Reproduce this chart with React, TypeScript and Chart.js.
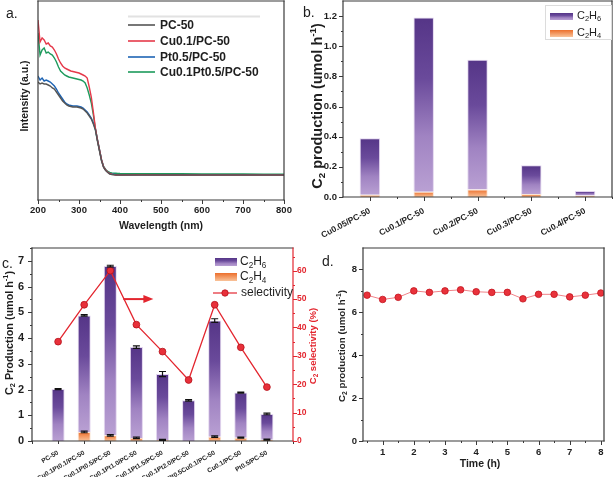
import React, { useEffect, useRef } from 'react';
import { Chart, registerables } from 'chart.js';

Chart.register(...registerables);

const FONT = "'Liberation Sans', Arial, Helvetica, sans-serif";
const INK = '#1e1e1e';
const AXIS = '#3a3a3a';
const RED = '#e3262f';

// ---------- Panel a: UV-vis spectra ----------
const uvWavelength = [200, 205, 210, 215, 220, 225, 230, 235, 240, 245, 250, 255, 260, 265, 270, 275, 280, 285, 290, 295, 300, 305, 310, 315, 320, 325, 330, 335, 340, 345, 350, 355, 360, 365, 370, 375, 380, 385, 390, 395, 400, 450, 500, 550, 600, 650, 700, 750, 800];
const uvPC50 = [118, 116, 117, 116, 116, 115, 114, 112, 111, 108, 105, 102, 99, 97, 95, 94, 93.5, 93, 93, 93, 92.5, 92, 91, 89, 87, 84, 81, 76, 70, 59, 49, 39, 32.5, 29.5, 27.5, 26, 25.5, 25.2, 25, 25, 25, 25, 25, 25, 25, 25, 25, 25, 25];
const uvCu01 = [180, 158, 162, 160, 156, 157, 154, 153, 150, 146, 141, 137, 134, 132, 131, 130, 129, 128.5, 128, 127.5, 127, 126, 125, 124, 122, 113, 103, 88, 72, 60, 50, 40, 33, 30, 28, 26.5, 25.8, 25.4, 25, 25, 25, 25.2, 25, 25, 25, 25, 25, 25, 25];
const uvPt05 = [124, 120, 122, 119, 120, 119, 118, 116, 114, 111, 107, 104, 101, 98, 96, 95, 94.5, 94, 94, 94, 93.5, 93, 92, 90, 88, 85, 82, 77, 71, 60, 50, 40, 33, 30, 28, 26.5, 26, 25.7, 25.5, 25.4, 25.3, 25.3, 25.3, 25.2, 25.2, 25.2, 25.2, 25.2, 25.2];
const uvCu01Pt05 = [167, 145, 150, 152, 147, 148, 146, 145, 142, 138, 133, 129, 127, 125, 124, 123, 122.5, 122, 121.5, 121, 120.5, 120, 119, 117, 112, 105, 97, 85, 71, 60, 50, 40, 33.5, 30.5, 28.5, 27.5, 27, 26.8, 26.7, 26.6, 26.5, 26.4, 26.3, 26.2, 26.1, 26, 26, 25.9, 25.8];
const uvSeriesNames = ['PC-50', 'Cu0.1/PC-50', 'Pt0.5/PC-50', 'Cu0.1Pt0.5/PC-50'];
const uvSeriesColors = ['#555555', '#e5394a', '#1e64b4', '#1d9a5c'];
const uvTicks = [200, 300, 400, 500, 600, 700, 800];
const uvMinor = [250, 350, 450, 550, 650, 750];

// ---------- Panel b: Cu loading ----------
const bLabels = ['Cu0.05/PC-50', 'Cu0.1/PC-50', 'Cu0.2/PC-50', 'Cu0.3/PC-50', 'Cu0.4/PC-50'];
const bC2H4 = [0.015, 0.035, 0.05, 0.02, 0.01];
const bC2H6 = [0.375, 1.155, 0.86, 0.19, 0.03];
const bYTicks = [0, 0.2, 0.4, 0.6, 0.8, 1.0, 1.2];
const bYMinor = [0.1, 0.3, 0.5, 0.7, 0.9, 1.1];

// ---------- Panel c: catalysts + selectivity ----------
const cLabels = ['PC-50', 'Cu0.1Pt0.1/PC-50', 'Cu0.1Pt0.5/PC-50', 'Cu0.1Pt1.0/PC-50', 'Cu0.1Pt1.5/PC-50', 'Cu0.1Pt2.0/PC-50', 'Pt0.5Cu0.1/PC-50', 'Cu0.1/PC-50', 'Pt0.5/PC-50'];
const cC2H4 = [0, 0.35, 0.22, 0.12, 0.04, 0, 0.17, 0.13, 0.05];
const cC2H6 = [2.02, 4.53, 6.58, 3.53, 2.56, 1.58, 4.51, 1.75, 1.0];
const cTotalErr = [0.02, 0.03, 0.03, 0.05, 0.1, 0.03, 0.07, 0.02, 0.03];
const cC2H4Err = [0, 0.03, 0.03, 0.03, 0.02, 0, 0.03, 0.02, 0.02];
const cSelectivity = [35, 48, 60, 41, 31.5, 21.5, 48, 33, 19];
const cYTicks = [0, 1, 2, 3, 4, 5, 6, 7];
const cYMinor = [0.5, 1.5, 2.5, 3.5, 4.5, 5.5, 6.5, 7.5];
const cY1Ticks = [0, 10, 20, 30, 40, 50, 60];
const cY1Minor = [5, 15, 25, 35, 45, 55, 65];
const cArrow = { from: 3.5, to: 4.65, at: 50 };

// ---------- Panel d: stability ----------
const dTime = [0.5, 1, 1.5, 2, 2.5, 3, 3.5, 4, 4.5, 5, 5.5, 6, 6.5, 7, 7.5, 8];
const dProduction = [6.8, 6.6, 6.7, 7.0, 6.93, 7.0, 7.05, 6.96, 6.93, 6.93, 6.63, 6.84, 6.84, 6.72, 6.8, 6.9];
const dXTicks = [1, 2, 3, 4, 5, 6, 7, 8];
const dXMinor = [0.5, 1.5, 2.5, 3.5, 4.5, 5.5, 6.5, 7.5];
const dYTicks = [0, 2, 4, 6, 8];
const dYMinor = [1, 3, 5, 7];

// ---------- helpers ----------
type Seg = { t: string; k?: 'sub' | 'sup' };

function drawRich(ctx: CanvasRenderingContext2D, segs: Seg[], x: number, y: number, size: number, weight: string, color: string, rot = 0, align: 'center' | 'left' = 'center') {
  ctx.save();
  ctx.translate(x, y);
  ctx.rotate(rot);
  const fontFor = (k?: string) => `${weight} ${k ? size * 0.68 : size}px ${FONT}`;
  let total = 0;
  for (const s of segs) {
    ctx.font = fontFor(s.k);
    total += ctx.measureText(s.t).width;
  }
  let cx = align === 'center' ? -total / 2 : 0;
  ctx.textBaseline = 'middle';
  ctx.textAlign = 'left';
  ctx.fillStyle = color;
  for (const s of segs) {
    ctx.font = fontFor(s.k);
    const dy = s.k === 'sub' ? size * 0.3 : s.k === 'sup' ? -size * 0.33 : 0;
    ctx.fillText(s.t, cx, dy);
    cx += ctx.measureText(s.t).width;
  }
  ctx.restore();
}

function drawFrame(chart: any, colors: { top: string; right: string; bottom: string; left: string }, lw = 1.2) {
  const { ctx, chartArea: a } = chart;
  ctx.save();
  ctx.lineWidth = lw;
  ctx.lineCap = 'square';
  const seg = (x1: number, y1: number, x2: number, y2: number, c: string) => {
    ctx.strokeStyle = c;
    ctx.beginPath();
    ctx.moveTo(x1, y1);
    ctx.lineTo(x2, y2);
    ctx.stroke();
  };
  seg(a.left, a.top, a.right, a.top, colors.top);
  seg(a.left, a.bottom, a.right, a.bottom, colors.bottom);
  seg(a.left, a.top, a.left, a.bottom, colors.left);
  seg(a.right, a.top, a.right, a.bottom, colors.right);
  ctx.restore();
}

function drawTicks(chart: any, scaleId: string, side: 'bottom' | 'left' | 'right', values: number[], len: number, color = AXIS, lw = 1) {
  const s = chart.scales[scaleId];
  const a = chart.chartArea;
  const ctx = chart.ctx as CanvasRenderingContext2D;
  ctx.save();
  ctx.strokeStyle = color;
  ctx.lineWidth = lw;
  ctx.beginPath();
  for (const v of values) {
    const p = Math.round(s.getPixelForValue(v)) + 0.5;
    if (side === 'bottom') {
      ctx.moveTo(p, a.bottom);
      ctx.lineTo(p, a.bottom + len);
    } else if (side === 'left') {
      ctx.moveTo(a.left, p);
      ctx.lineTo(a.left - len, p);
    } else {
      ctx.moveTo(a.right, p);
      ctx.lineTo(a.right + len, p);
    }
  }
  ctx.stroke();
  ctx.restore();
}

function purpleGradient(ctx: CanvasRenderingContext2D, y0: number, y1: number) {
  const g = ctx.createLinearGradient(0, y0, 0, Math.max(y1, y0 + 1));
  g.addColorStop(0, '#553587');
  g.addColorStop(0.35, '#6a4a9b');
  g.addColorStop(0.68, '#a083c2');
  g.addColorStop(1, '#b9a0d3');
  return g;
}

function orangeGradient(ctx: CanvasRenderingContext2D, y0: number, y1: number) {
  const g = ctx.createLinearGradient(0, y0, 0, Math.max(y1, y0 + 1));
  g.addColorStop(0, '#ec6f2c');
  g.addColorStop(1, '#f9c39a');
  return g;
}

function barFill(kind: 'purple' | 'orange', lows: number[], highs: number[], idxShift: number) {
  return (c: any) => {
    const chart = c.chart;
    const y = chart.scales && chart.scales.y;
    if (c.type !== 'data' || !y || !chart.chartArea) return kind === 'purple' ? '#7d5fae' : '#f29a62';
    const i = c.dataIndex - idxShift;
    if (i < 0 || i >= lows.length) return '#7d5fae';
    const p0 = y.getPixelForValue(highs[i]);
    const p1 = y.getPixelForValue(lows[i]);
    return kind === 'purple' ? purpleGradient(chart.ctx, p0, p1) : orangeGradient(chart.ctx, p0, p1);
  };
}

const axisFont = (size: number, weight = 'bold') => ({ family: FONT, size, weight: weight as any });
const setTicks = (vals: number[]) => (s: any) => {
  s.ticks = vals.map((v) => ({ value: v }));
};
const fitHeight = (h: number) => (s: any) => {
  s.height = h;
  s.paddingLeft = 0; s.paddingRight = 0; s.paddingTop = 0; s.paddingBottom = 0;
};
const fitWidth = (w: number) => (s: any) => {
  s.width = w;
  s.paddingLeft = 0; s.paddingRight = 0; s.paddingTop = 0; s.paddingBottom = 0;
};
const noGrid = { display: false, drawTicks: false, tickLength: 0 };
const noBorder = { display: false };

// ---------- builders ----------
function buildA(canvas: HTMLCanvasElement) {
  const seriesData = [uvPC50, uvCu01, uvPt05, uvCu01Pt05];
  return new Chart(canvas, {
    type: 'line',
    data: {
      datasets: seriesData.map((d, k) => ({
        label: uvSeriesNames[k],
        data: uvWavelength.map((w, i) => ({ x: w, y: d[i] })),
        borderColor: uvSeriesColors[k],
        borderWidth: 1.4,
        pointRadius: 0,
        tension: 0,
        fill: false,
      })),
    },
    options: {
      responsive: false,
      animation: false,
      events: [],
      layout: { padding: { top: 1, right: 16, left: 38, bottom: 0 } },
      plugins: { legend: { display: false }, tooltip: { enabled: false } },
      scales: {
        x: {
          type: 'linear', min: 200, max: 800,
          grid: noGrid, border: noBorder,
          afterBuildTicks: setTicks(uvTicks),
          ticks: { font: axisFont(9.5), color: INK, padding: 5, maxRotation: 0, autoSkip: false },
          afterFit: fitHeight(40),
        },
        y: { display: false, min: 0, max: 199 },
      },
    },
    plugins: [{
      id: 'decorA',
      afterDraw(chart: any) {
        const ctx = chart.ctx as CanvasRenderingContext2D;
        drawFrame(chart, { top: AXIS, right: AXIS, bottom: AXIS, left: AXIS });
        drawTicks(chart, 'x', 'bottom', uvTicks, 4);
        drawTicks(chart, 'x', 'bottom', uvMinor, 2);
        ctx.save();
        ctx.strokeStyle = '#e2e2e2';
        ctx.lineWidth = 2;
        ctx.beginPath(); ctx.moveTo(128, 16.5); ctx.lineTo(260, 16.5); ctx.stroke();
        const ly = [25, 41, 57, 72];
        uvSeriesNames.forEach((name, k) => {
          ctx.strokeStyle = uvSeriesColors[k];
          ctx.lineWidth = 1.6;
          ctx.beginPath(); ctx.moveTo(128, ly[k]); ctx.lineTo(155, ly[k]); ctx.stroke();
          drawRich(ctx, [{ t: name }], 160, ly[k] + 0.5, 12, 'bold', INK, 0, 'left');
        });
        ctx.restore();
        drawRich(ctx, [{ t: 'Wavelength (nm)' }], 161, 226, 10.5, 'bold', INK);
        drawRich(ctx, [{ t: 'Intensity (a.u.)' }], 25, 96, 10.5, 'bold', INK, -Math.PI / 2);
        drawRich(ctx, [{ t: 'a.' }], 6, 14, 14, 'normal', INK, 0, 'left');
      },
    }],
  } as any);
}

function buildB(canvas: HTMLCanvasElement) {
  const totals = bC2H6.map((v, i) => v + bC2H4[i]);
  const zeros = bC2H4.map(() => 0);
  return new Chart(canvas, {
    type: 'bar',
    data: {
      labels: bLabels,
      datasets: [
        {
          label: 'C2H4', data: bC2H4, stack: 's',
          backgroundColor: barFill('orange', zeros, bC2H4, 0),
          borderColor: 'rgba(250,225,205,0.9)', borderWidth: 1,
          categoryPercentage: 1, barPercentage: 0.38,
        },
        {
          label: 'C2H6', data: bC2H6, stack: 's',
          backgroundColor: barFill('purple', bC2H4, totals, 0),
          borderColor: 'rgba(225,212,238,0.95)', borderWidth: 1,
          categoryPercentage: 1, barPercentage: 0.38,
        },
      ],
    },
    options: {
      responsive: false,
      animation: false,
      events: [],
      layout: { padding: { top: 1, right: 2, left: 0, bottom: 0 } },
      plugins: { legend: { display: false }, tooltip: { enabled: false } },
      scales: {
        x: {
          stacked: true, grid: noGrid, border: noBorder, offset: true,
          ticks: { font: axisFont(8.5), color: INK, padding: 9, minRotation: 28, maxRotation: 28, autoSkip: false },
          afterFit: fitHeight(43),
        },
        y: {
          stacked: true, min: 0, max: 1.3, grid: noGrid, border: noBorder,
          afterBuildTicks: setTicks(bYTicks),
          ticks: { font: axisFont(9.5), color: INK, padding: 6, callback: (v: any) => Number(v).toFixed(1) },
          afterFit: fitWidth(43),
        },
      },
    },
    plugins: [{
      id: 'decorB',
      afterDraw(chart: any) {
        const ctx = chart.ctx as CanvasRenderingContext2D;
        drawFrame(chart, { top: AXIS, right: AXIS, bottom: AXIS, left: AXIS });
        drawTicks(chart, 'x', 'bottom', bLabels.map((_, i) => i), 4);
        drawTicks(chart, 'x', 'bottom', bLabels.map((_, i) => i + 0.5), 2);
        drawTicks(chart, 'y', 'left', bYTicks, 4);
        drawTicks(chart, 'y', 'left', bYMinor, 2);
        ctx.save();
        ctx.strokeStyle = '#dcdcdc';
        ctx.lineWidth = 1;
        ctx.strokeRect(245.5, 5.5, 66, 34);
        ctx.fillStyle = purpleGradient(ctx, 13, 20);
        ctx.fillRect(250, 13, 23, 7);
        ctx.fillStyle = orangeGradient(ctx, 30, 37);
        ctx.fillRect(250, 30, 23, 7);
        ctx.restore();
        drawRich(ctx, [{ t: 'C' }, { t: '2', k: 'sub' }, { t: 'H' }, { t: '6', k: 'sub' }], 277, 16, 11, 'normal', INK, 0, 'left');
        drawRich(ctx, [{ t: 'C' }, { t: '2', k: 'sub' }, { t: 'H' }, { t: '4', k: 'sub' }], 277, 33, 11, 'normal', INK, 0, 'left');
        drawRich(ctx, [{ t: 'C' }, { t: '2', k: 'sub' }, { t: ' production (umol h' }, { t: '-1', k: 'sup' }, { t: ')' }], 18, 106, 14.5, 'bold', INK, -Math.PI / 2);
        drawRich(ctx, [{ t: 'b.' }], 3, 13, 14, 'normal', INK, 0, 'left');
      },
    }],
  } as any);
}

function buildC(canvas: HTMLCanvasElement) {
  const pad = (arr: (number | null)[]) => [null, ...arr, null];
  const labels = ['', ...cLabels, ''];
  const totals = cC2H6.map((v, i) => v + cC2H4[i]);
  const zeros = cC2H4.map(() => 0);
  return new Chart(canvas, {
    type: 'bar',
    data: {
      labels,
      datasets: [
        {
          type: 'line', label: 'selectivity', data: pad(cSelectivity), yAxisID: 'y1',
          borderColor: RED, borderWidth: 1.3, pointRadius: 3.4,
          pointBackgroundColor: '#e8303a', pointBorderColor: '#b5121b', pointBorderWidth: 0.8,
          tension: 0, fill: false, order: 0,
        },
        {
          label: 'C2H4', data: pad(cC2H4), stack: 's', yAxisID: 'y',
          backgroundColor: barFill('orange', zeros, cC2H4, 1),
          borderColor: 'rgba(250,225,205,0.9)', borderWidth: 1,
          categoryPercentage: 1, barPercentage: 0.5, order: 1,
        },
        {
          label: 'C2H6', data: pad(cC2H6), stack: 's', yAxisID: 'y',
          backgroundColor: barFill('purple', cC2H4, totals, 1),
          borderColor: 'rgba(225,212,238,0.95)', borderWidth: 1,
          categoryPercentage: 1, barPercentage: 0.5, order: 1,
        },
      ],
    },
    options: {
      responsive: false,
      animation: false,
      events: [],
      layout: { padding: { top: 8, right: 0, left: 0, bottom: 0 } },
      plugins: { legend: { display: false }, tooltip: { enabled: false } },
      scales: {
        x: {
          stacked: true, offset: false, grid: noGrid, border: noBorder,
          ticks: { font: axisFont(6.5), color: INK, padding: 8, minRotation: 30, maxRotation: 30, autoSkip: false },
          afterFit: fitHeight(36),
        },
        y: {
          stacked: true, min: 0, max: 7.5, position: 'left', grid: noGrid, border: noBorder,
          afterBuildTicks: setTicks(cYTicks),
          ticks: { font: axisFont(11), color: INK, padding: 8 },
          afterFit: fitWidth(32),
        },
        y1: {
          min: 0, max: 68, position: 'right', grid: noGrid, border: noBorder,
          afterBuildTicks: setTicks(cY1Ticks),
          ticks: { font: axisFont(8.5), color: RED, padding: 4 },
          afterFit: fitWidth(32),
        },
      },
    },
    plugins: [{
      id: 'decorC',
      afterDraw(chart: any) {
        const ctx = chart.ctx as CanvasRenderingContext2D;
        const xs = chart.scales.x;
        const ys = chart.scales.y;
        const y1 = chart.scales.y1;
        drawFrame(chart, { top: AXIS, right: RED, bottom: AXIS, left: AXIS });
        drawTicks(chart, 'x', 'bottom', labels.map((_, i) => i), 3);
        drawTicks(chart, 'y', 'left', cYTicks, 4);
        drawTicks(chart, 'y', 'left', cYMinor, 2);
        drawTicks(chart, 'y1', 'right', cY1Ticks, 4, RED);
        drawTicks(chart, 'y1', 'right', cY1Minor, 2, RED);
        ctx.save();
        ctx.strokeStyle = '#111';
        ctx.lineWidth = 1.2;
        const errBar = (idx: number, val: number, err: number) => {
          if (err <= 0) return;
          const x = xs.getPixelForValue(idx + 1);
          const yt = ys.getPixelForValue(val + err);
          const yb = ys.getPixelForValue(val - err);
          ctx.beginPath();
          ctx.moveTo(x, yt); ctx.lineTo(x, yb);
          ctx.moveTo(x - 3.5, yt); ctx.lineTo(x + 3.5, yt);
          ctx.moveTo(x - 3.5, yb); ctx.lineTo(x + 3.5, yb);
          ctx.stroke();
        };
        totals.forEach((t, i) => errBar(i, t, cTotalErr[i]));
        cC2H4.forEach((t, i) => errBar(i, t, cC2H4Err[i]));
        ctx.restore();
        ctx.save();
        const ax0 = xs.getPixelForValue(cArrow.from);
        const ax1 = xs.getPixelForValue(cArrow.to);
        const ay = y1.getPixelForValue(cArrow.at);
        ctx.strokeStyle = RED;
        ctx.fillStyle = RED;
        ctx.lineWidth = 2;
        ctx.beginPath(); ctx.moveTo(ax0, ay); ctx.lineTo(ax1 - 8, ay); ctx.stroke();
        ctx.beginPath(); ctx.moveTo(ax1, ay); ctx.lineTo(ax1 - 10, ay - 4); ctx.lineTo(ax1 - 10, ay + 4); ctx.closePath(); ctx.fill();
        ctx.restore();
        ctx.save();
        ctx.fillStyle = purpleGradient(ctx, 18, 26);
        ctx.fillRect(215, 18, 22, 8);
        ctx.fillStyle = orangeGradient(ctx, 33, 41);
        ctx.fillRect(215, 33, 22, 8);
        ctx.strokeStyle = RED; ctx.lineWidth = 1.2;
        ctx.beginPath(); ctx.moveTo(213, 53); ctx.lineTo(237, 53); ctx.stroke();
        ctx.fillStyle = '#e8303a'; ctx.strokeStyle = '#b5121b'; ctx.lineWidth = 0.8;
        ctx.beginPath(); ctx.arc(225, 53, 3.2, 0, Math.PI * 2); ctx.fill(); ctx.stroke();
        ctx.restore();
        drawRich(ctx, [{ t: 'C' }, { t: '2', k: 'sub' }, { t: 'H' }, { t: '6', k: 'sub' }], 240, 22, 12, 'normal', INK, 0, 'left');
        drawRich(ctx, [{ t: 'C' }, { t: '2', k: 'sub' }, { t: 'H' }, { t: '4', k: 'sub' }], 240, 37, 12, 'normal', INK, 0, 'left');
        drawRich(ctx, [{ t: 'selectivity' }], 241, 53, 12, 'normal', INK, 0, 'left');
        drawRich(ctx, [{ t: 'C' }, { t: '2', k: 'sub' }, { t: ' Production (umol h' }, { t: '-1', k: 'sup' }, { t: ')' }], 10, 93, 10.8, 'bold', INK, -Math.PI / 2);
        drawRich(ctx, [{ t: 'C' }, { t: '2', k: 'sub' }, { t: ' selectivity (%)' }], 313, 106, 9.5, 'bold', RED, -Math.PI / 2);
        drawRich(ctx, [{ t: 'c.' }], 2, 24, 14, 'normal', INK, 0, 'left');
      },
    }],
  } as any);
}

function buildD(canvas: HTMLCanvasElement) {
  return new Chart(canvas, {
    type: 'line',
    data: {
      datasets: [{
        label: 'C2 production',
        data: dTime.map((t, i) => ({ x: t, y: dProduction[i] })),
        borderColor: '#f08389', borderWidth: 1,
        pointRadius: 3.3, pointBackgroundColor: '#e8323b', pointBorderColor: '#c4141e', pointBorderWidth: 0.8,
        tension: 0, fill: false,
      }],
    },
    options: {
      responsive: false,
      animation: false,
      events: [],
      layout: { padding: { top: 8, right: 10, left: 0, bottom: 0 } },
      plugins: { legend: { display: false }, tooltip: { enabled: false } },
      scales: {
        x: {
          type: 'linear', min: 0.37, max: 8.1, grid: noGrid, border: noBorder,
          afterBuildTicks: setTicks(dXTicks),
          ticks: { font: axisFont(9.5), color: INK, padding: 6, maxRotation: 0, autoSkip: false },
          afterFit: fitHeight(36),
        },
        y: {
          min: 0, max: 9, grid: noGrid, border: noBorder,
          afterBuildTicks: setTicks(dYTicks),
          ticks: { font: axisFont(9.5), color: INK, padding: 6 },
          afterFit: fitWidth(48),
        },
      },
    },
    plugins: [{
      id: 'decorD',
      afterDraw(chart: any) {
        const ctx = chart.ctx as CanvasRenderingContext2D;
        drawFrame(chart, { top: AXIS, right: AXIS, bottom: AXIS, left: AXIS });
        drawTicks(chart, 'x', 'bottom', dXTicks, 4);
        drawTicks(chart, 'x', 'bottom', dXMinor, 2);
        drawTicks(chart, 'y', 'left', dYTicks, 4);
        drawTicks(chart, 'y', 'left', dYMinor, 2);
        drawRich(ctx, [{ t: 'C' }, { t: '2', k: 'sub' }, { t: ' production (umol h' }, { t: '-1', k: 'sup' }, { t: ')' }], 27, 106, 9.8, 'bold', INK, -Math.PI / 2);
        drawRich(ctx, [{ t: 'Time (h)' }], 165, 224, 10.5, 'bold', INK);
        drawRich(ctx, [{ t: 'd.' }], 7, 22, 14, 'normal', INK, 0, 'left');
      },
    }],
  } as any);
}

function Panel({ left, top, width, height, build }: { left: number; top: number; width: number; height: number; build: (c: HTMLCanvasElement) => Chart }) {
  const ref = useRef<HTMLCanvasElement>(null);
  useEffect(() => {
    const chart = build(ref.current as HTMLCanvasElement);
    return () => chart.destroy();
  }, [build]);
  return (
    <canvas
      ref={ref}
      width={width}
      height={height}
      style={{ position: 'absolute', left, top, width, height, display: 'block' }}
    />
  );
}

export default function App() {
  return (
    <div style={{ position: 'fixed', left: 0, top: 0, width: 614, height: 477, background: '#ffffff', overflow: 'hidden' }}>
      <Panel left={0} top={0} width={300} height={240} build={buildA} />
      <Panel left={300} top={0} width={314} height={240} build={buildB} />
      <Panel left={0} top={240} width={325} height={237} build={buildC} />
      <Panel left={315} top={240} width={299} height={237} build={buildD} />
    </div>
  );
}
